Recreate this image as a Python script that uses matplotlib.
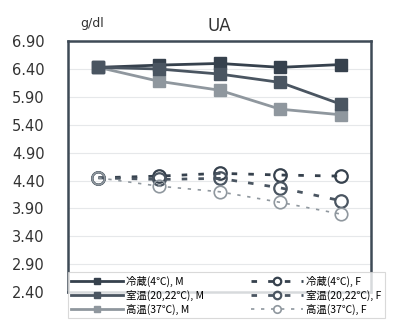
import matplotlib.pyplot as plt
import numpy as np

plt.rcParams['font.family'] = ['Noto Sans CJK JP', 'DejaVu Sans']

days = [0, 1, 2, 3, 4]
cold_m = [6.43, 6.47, 6.50, 6.43, 6.48]
room_m = [6.43, 6.40, 6.31, 6.16, 5.77]
hot_m = [6.43, 6.18, 6.02, 5.68, 5.58]
cold_f = [4.45, 4.48, 4.53, 4.50, 4.48]
room_f = [4.45, 4.42, 4.44, 4.27, 4.04]
hot_f = [4.45, 4.30, 4.20, 4.01, 3.80]
yticks = [2.40, 2.90, 3.40, 3.90, 4.40, 4.90, 5.40, 5.90, 6.40, 6.90]

c_cold = '#36414d'
c_room = '#4a5561'
c_hot = '#8f979e'

fig = plt.figure(figsize=(3.96, 3.29), dpi=100)
ax = fig.add_axes([0.172, 0.112, 0.765, 0.763])

ax.plot(days, cold_m, '-s', color=c_cold, lw=2, ms=8, label='冷蔵(4℃), M', zorder=4)
ax.plot(days, room_m, '-s', color=c_room, lw=2, ms=8, label='室温(20,22℃), M', zorder=4)
ax.plot(days, hot_m, '-s', color=c_hot, lw=2, ms=8, label='高温(37℃), M', zorder=3)
ax.plot(days, cold_f, 'o', ls=(0, (2, 4)), color=c_cold, lw=2, ms=9, mfc='none', mew=1.6, label='冷蔵(4℃), F')
ax.plot(days, room_f, 'o', ls=(0, (2, 4)), color=c_room, lw=2, ms=9, mfc='none', mew=1.6, label='室温(20,22℃), F')
ax.plot(days, hot_f, 'o', ls=(0, (2, 4)), color=c_hot, lw=1.2, ms=9, mfc='none', mew=1.2, label='高温(37℃), F')

ax.set_xlim(-0.5, 4.5)
ax.set_ylim(2.40, 6.90)
ax.set_yticks(yticks)
ax.set_yticklabels(['%.2f' % v for v in yticks], fontsize=10.5, color='#333333', family='DejaVu Sans')
ax.set_xticks([])
ax.tick_params(axis='y', length=0, pad=17)
ax.grid(axis='y', color='#e6e8ea', lw=0.8)
for s in ax.spines.values():
    s.set_color('#3e4a56')
    s.set_linewidth(1.8)

fig.text(0.555, 0.922, 'UA', ha='center', va='center', fontsize=12, color='#333333', family='DejaVu Sans')
fig.text(0.232, 0.93, 'g/dl', ha='center', va='center', fontsize=9, color='#333333', family='DejaVu Sans')

h, l = ax.get_legend_handles_labels()
leg = fig.legend(h, l, ncol=2, loc='lower left', bbox_to_anchor=(0.172, 0.033, 0.8, 0.147),
                 mode='expand', fontsize=7.5, frameon=True, fancybox=False, edgecolor='#d0d0d0',
                 borderpad=0.3, labelspacing=0.3, handlelength=5, columnspacing=1.5,
                 handletextpad=0.3, markerscale=0.6, borderaxespad=0)
leg.get_frame().set_linewidth(0.8)

fig.savefig('out.png', dpi=100)
